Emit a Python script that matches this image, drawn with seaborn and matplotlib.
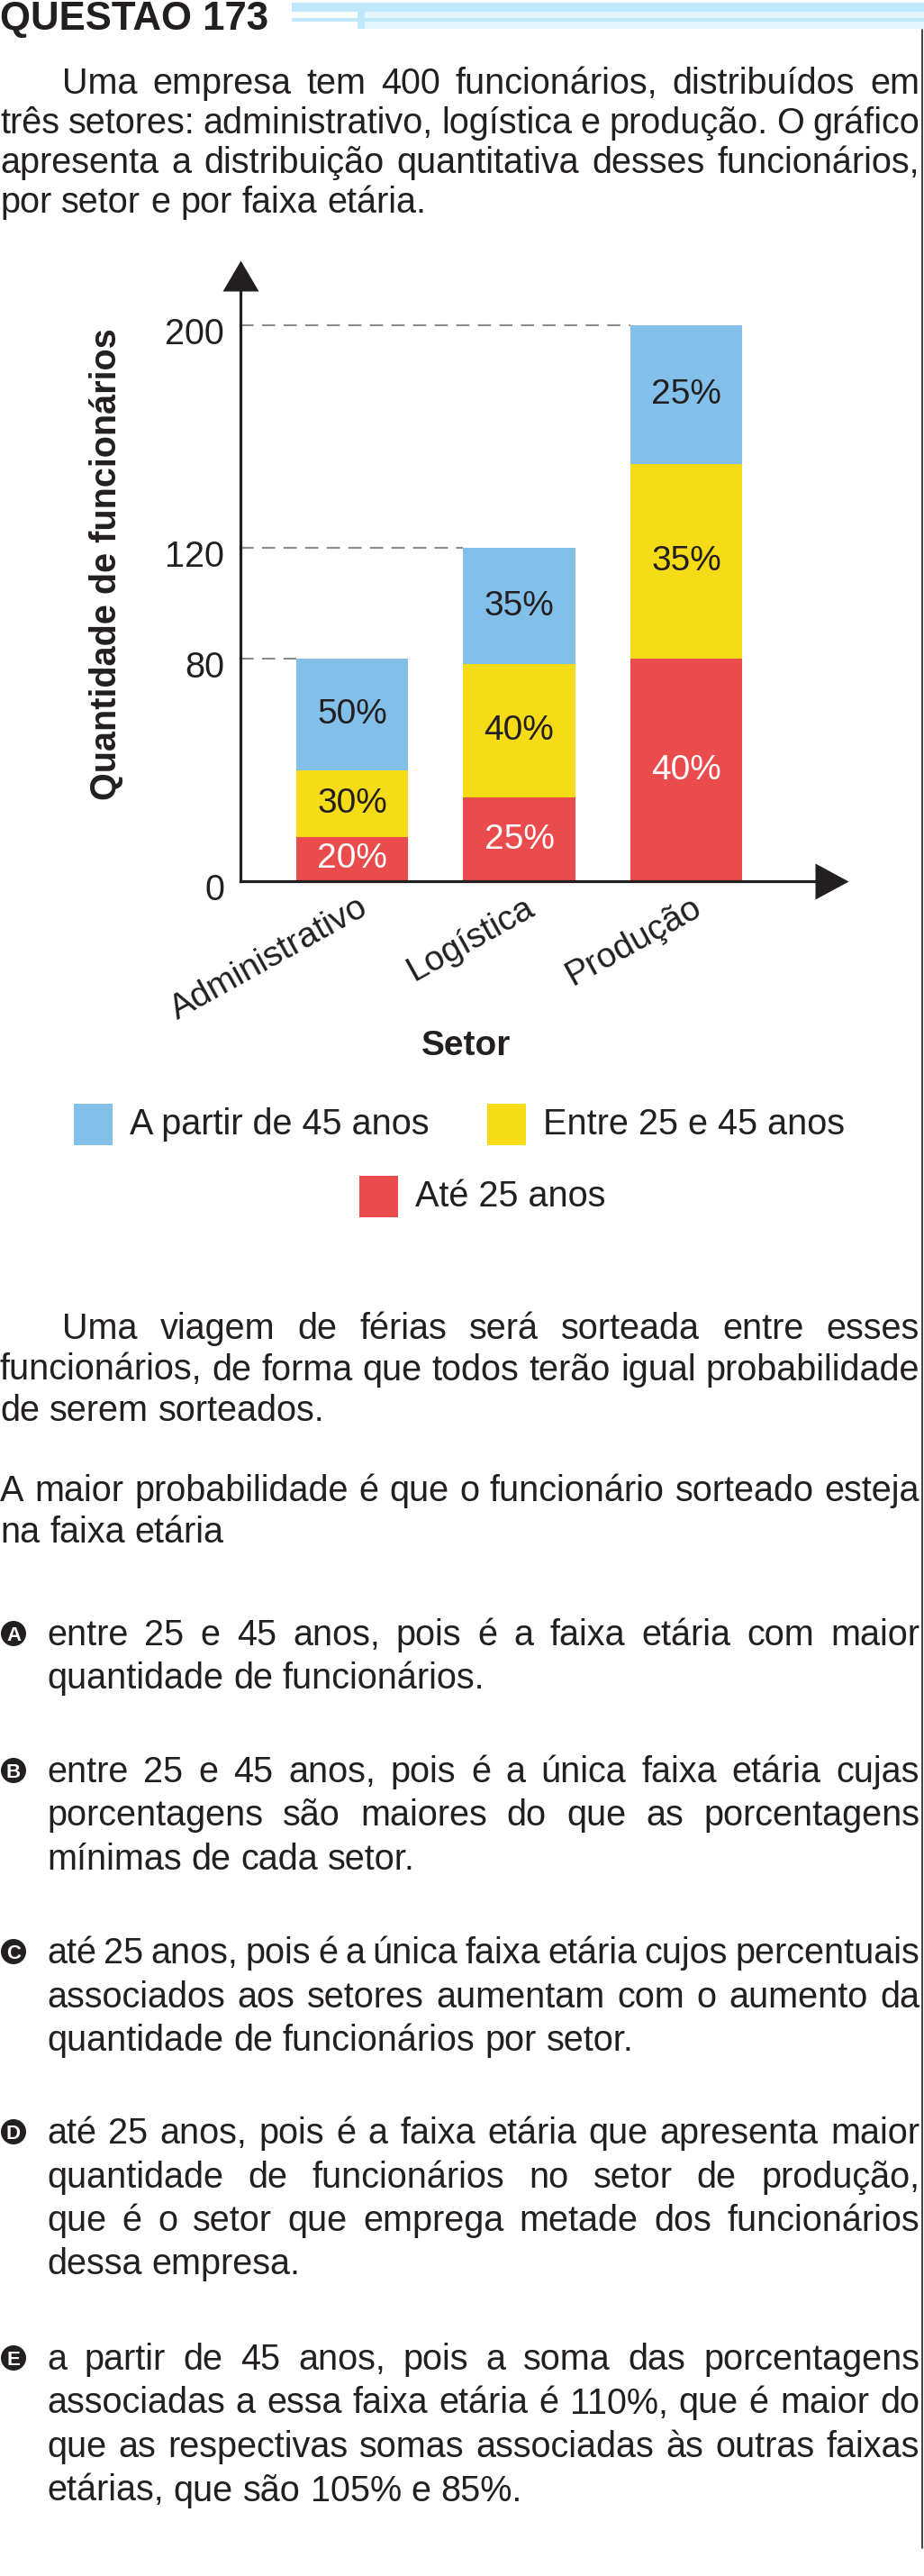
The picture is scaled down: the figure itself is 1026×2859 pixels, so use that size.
import matplotlib
matplotlib.use("Agg")
import matplotlib.pyplot as plt
from matplotlib.patches import Rectangle, Ellipse
from matplotlib.lines import Line2D
from matplotlib.transforms import ScaledTranslation
import seaborn as sns

# dados do grafico
setores = ["Administrativo", "Logística", "Produção"]
totais = [80, 120, 200]
pct_ate_25 = [20, 25, 40]
pct_25_45 = [30, 40, 35]
pct_45_mais = [50, 35, 25]
faixas = ["A partir de 45 anos", "Entre 25 e 45 anos", "Até 25 anos"]

# textos da questao
paragrafo_1 = [
    "Uma empresa tem 400 funcionários, distribuídos em",
    "três setores: administrativo, logística e produção. O gráfico",
    "apresenta a distribuição quantitativa desses funcionários,",
    "por setor e por faixa etária.",
]
paragrafo_2 = [
    "Uma viagem de férias será sorteada entre esses",
    "funcionários, de forma que todos terão igual probabilidade",
    "de serem sorteados.",
]
paragrafo_3 = [
    "A maior probabilidade é que o funcionário sorteado esteja",
    "na faixa etária",
]
opcoes = {
    "A": ["entre 25 e 45 anos, pois é a faixa etária com maior",
          "quantidade de funcionários."],
    "B": ["entre 25 e 45 anos, pois é a única faixa etária cujas",
          "porcentagens são maiores do que as porcentagens",
          "mínimas de cada setor."],
    "C": ["até 25 anos, pois é a única faixa etária cujos percentuais",
          "associados aos setores aumentam com o aumento da",
          "quantidade de funcionários por setor."],
    "D": ["até 25 anos, pois é a faixa etária que apresenta maior",
          "quantidade de funcionários no setor de produção,",
          "que é o setor que emprega metade dos funcionários",
          "dessa empresa."],
    "E": ["a partir de 45 anos, pois a soma das porcentagens",
          "associadas a essa faixa etária é 110%, que é maior do",
          "que as respectivas somas associadas às outras faixas",
          "etárias, que são 105% e 85%."],
}

azul = "#82c0e9"
amarelo = "#f6dc17"
vermelho = "#ea4b4d"
tinta = "#231f20"
FS = 28.5

sns.set_style("white")
plt.rcParams["font.family"] = ["Liberation Sans", "DejaVu Sans"]

W, H = 1026, 2859
fig = plt.figure(figsize=(W / 100, H / 100), dpi=100)
fig.patch.set_facecolor("white")
renderer = fig.canvas.get_renderer()


def fx(px):
    return px / W


def fy(py):
    return 1 - py / H


def largura(s):
    t = fig.text(0, 0, s, fontsize=FS)
    w = t.get_window_extent(renderer).width
    t.remove()
    return w


espaco = largura("a a") - largura("aa")


def escreve_bloco(linhas, x0, y0, passo, recuo=0, x1=1021):
    for i, linha in enumerate(linhas):
        palavras = linha.split()
        textos = [fig.text(0, 0, p, fontsize=FS, color=tinta, va="baseline")
                  for p in palavras]
        larg = [t.get_window_extent(renderer).width for t in textos]
        x = x0 + (recuo if i == 0 else 0)
        if i < len(linhas) - 1 and len(palavras) > 1:
            gap = (x1 - x - sum(larg)) / (len(palavras) - 1)
        else:
            gap = espaco
        for t, w in zip(textos, larg):
            t.set_position((fx(x), fy(y0 + i * passo)))
            x += w + gap


# cabecalho
fig.text(0, fy(33), "QUESTAO 173", fontsize=31.5, fontweight="bold",
         color=tinta, va="baseline")
for x0, y0, x1, y1, cor in [(324, 3, 1026, 13, "#bfe8fa"),
                            (405, 13, 1026, 32, "#e4f6fd"),
                            (324, 20, 1026, 24, "#bfe8fa"),
                            (397, 13, 405, 32, "#bfe8fa")]:
    fig.add_artist(Rectangle((fx(x0), fy(y1)), (x1 - x0) / W, (y1 - y0) / H,
                             transform=fig.transFigure, color=cor, lw=0))
fig.add_artist(Line2D([fx(1024), fx(1024)], [fy(33), fy(2828)],
                      color=tinta, lw=1.2))

escreve_bloco(paragrafo_1, 0, 104, 44, recuo=69)

# grafico de barras empilhadas
n_ate = [t * p / 100 for t, p in zip(totais, pct_ate_25)]
n_meio = [t * p / 100 for t, p in zip(totais, pct_25_45)]
n_45 = [t * p / 100 for t, p in zip(totais, pct_45_mais)]

px_unit = 3.085
ax = fig.add_axes([fx(267), fy(978), (905 - 267) / W, (978 - 323) / H])
largura_barra = 0.671
sns.barplot(x=setores, y=totais, color=azul, saturation=1,
            width=largura_barra, errorbar=None, lw=0, ax=ax)
sns.barplot(x=setores, y=[a + b for a, b in zip(n_ate, n_meio)], color=amarelo,
            saturation=1, width=largura_barra, errorbar=None, lw=0, ax=ax)
sns.barplot(x=setores, y=n_ate, color=vermelho, saturation=1,
            width=largura_barra, errorbar=None, lw=0, ax=ax)
ax.set_xlim(-0.668, 2.771)
ax.set_ylim(0, (978 - 323) / px_unit)
ax.set_facecolor("none")

for i in range(len(setores)):
    ax.text(i, n_ate[i] / 2, f"{pct_ate_25[i]}%", ha="center", va="center",
            fontsize=28, color="white")
    ax.text(i, n_ate[i] + n_meio[i] / 2, f"{pct_25_45[i]}%", ha="center",
            va="center", fontsize=28, color=tinta)
    ax.text(i, n_ate[i] + n_meio[i] + n_45[i] / 2, f"{pct_45_mais[i]}%",
            ha="center", va="center", fontsize=28, color=tinta)

ax.hlines(totais, -0.668, [i - largura_barra / 2 for i in range(len(setores))],
          colors="#8a8a8a", linestyles=(0, (7, 4.5)), lw=1.5)

sns.despine(ax=ax)
for lado in ["left", "bottom"]:
    ax.spines[lado].set_linewidth(2.3)
    ax.spines[lado].set_color(tinta)
seta_dir = [(0, -20), (37, 0), (0, 20)]
seta_cima = [(-20, 0), (0, 34), (20, 0)]
ax.plot(1, 0, marker=seta_dir, ms=53.3, mew=0, color=tinta,
        transform=ax.transAxes, clip_on=False)
ax.plot(0, 1, marker=seta_cima, ms=49, mew=0, color=tinta,
        transform=ax.transAxes, clip_on=False)

ax.set_yticks([0] + totais)
ax.set_yticklabels([str(v) for v in [0] + totais])
ax.tick_params(axis="both", length=0, labelsize=28.5, labelcolor=tinta)
ax.tick_params(axis="y", pad=13)
ax.tick_params(axis="x", pad=8)
for lab in ax.get_yticklabels():
    lab.set_transform(lab.get_transform() +
                      ScaledTranslation(0, -6 / 100, fig.dpi_scale_trans))
ax.set_xticks(range(len(setores)))
ax.set_xticklabels(setores, fontsize=28)
for lab in ax.get_xticklabels():
    lab.set_rotation(29)
    lab.set_ha("right")
    lab.set_va("top")
    lab.set_rotation_mode("anchor")
    lab.set_transform(lab.get_transform() +
                      ScaledTranslation(6 / 100, 0, fig.dpi_scale_trans))

ax.set_ylabel("Quantidade de funcionários", fontsize=28.5, fontweight="bold",
              color=tinta)
ax.yaxis.set_label_coords((118 - 267) / 638, (978 - 626) / 655)
ax.yaxis.label.set_va("center")
ax.set_xlabel("Setor", fontsize=28, fontweight="bold", color=tinta)
ax.xaxis.set_label_coords((518 - 267) / 638, (978 - 1161) / 655)
ax.xaxis.label.set_va("center")

# legenda
for cor, rotulo, x, y in [(azul, faixas[0], 82, 1225),
                          (amarelo, faixas[1], 541, 1225),
                          (vermelho, faixas[2], 399, 1305)]:
    fig.add_artist(Rectangle((fx(x), fy(y + 46)), 43 / W, 46 / H,
                             transform=fig.transFigure, color=cor, lw=0))
    fig.text(fx(x + 62), fy(y + 23), rotulo, fontsize=28.5, color=tinta,
             va="center")

escreve_bloco(paragrafo_2, 0, 1486, 45.5, recuo=69)
escreve_bloco(paragrafo_3, 0, 1666, 46)

# alternativas com a letra num circulo preto
for letra, base in zip(opcoes, [1826, 1978, 2179, 2379, 2630]):
    fig.add_artist(Ellipse((fx(15), fy(base - 13)), 28 / W, 28 / H,
                           transform=fig.transFigure, color=tinta, lw=0))
    fig.text(fx(15), fy(base - 13), letra, fontsize=16, fontweight="bold",
             color="white", ha="center", va="center_baseline")
    escreve_bloco(opcoes[letra], 52, base, 48.5)

fig.savefig("out.png", dpi=100, facecolor="white")
